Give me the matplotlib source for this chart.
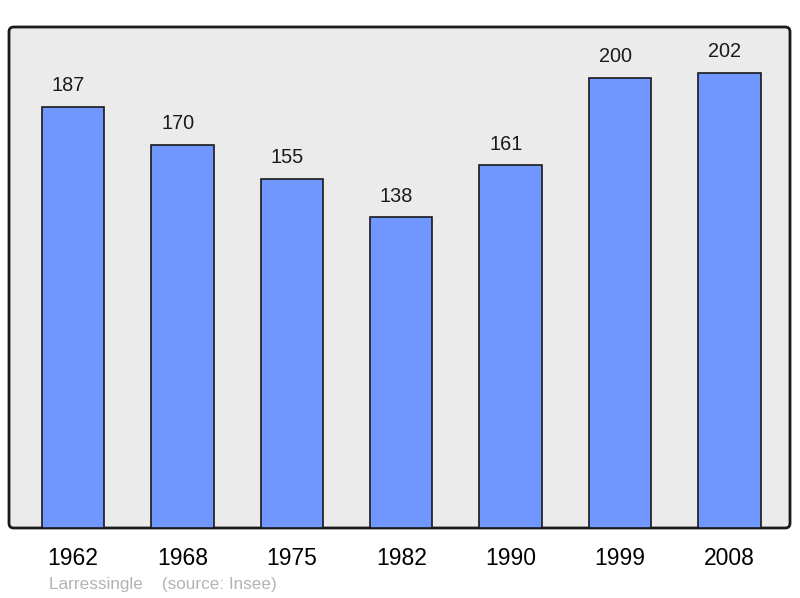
import matplotlib
matplotlib.use("Agg")
import matplotlib.pyplot as plt
from matplotlib.patches import FancyBboxPatch

plt.rcParams['font.family'] = ['Liberation Sans', 'DejaVu Sans']

years = ['1962', '1968', '1975', '1982', '1990', '1999', '2008']
population = [187, 170, 155, 138, 161, 200, 202]

fig = plt.figure(figsize=(8, 5.98), dpi=100)
left, bottom, width, height = 9 / 800, 70 / 598, 781 / 800, 501 / 598
ax = fig.add_axes([left, bottom, width, height])
ax.set_facecolor('none')

# rounded frame behind the axes
frame = FancyBboxPatch((left, bottom), width, height,
                       boxstyle='round,pad=0,rounding_size=0.006',
                       mutation_aspect=800 / 598,
                       transform=fig.transFigure, facecolor='#ebebeb',
                       edgecolor='#1a1a1a', linewidth=2, zorder=-1)
fig.patches.append(frame)

x = range(len(years))
ax.bar(x, population, width=0.57, color='#7096ff', edgecolor='#1a1a1a',
       linewidth=1.2, zorder=2)
for i, v in enumerate(population):
    ax.annotate(str(v), (i, v), xytext=(-3.3, 15.3), textcoords='offset points',
                ha='center', va='center', fontsize=14.3, color='#1a1a1a')

ax.set_xlim(-0.585, 6.553)
ax.set_ylim(0, 222.5)
ax.set_xticks(list(x))
ax.set_xticklabels(years, fontsize=16.5)
ax.tick_params(axis='x', length=0, pad=14)
ax.set_yticks([])
for s in ax.spines.values():
    s.set_visible(False)

fig.text(49 / 800, 1 - 584 / 598, 'Larressingle    (source: Insee)',
         fontsize=12.3, color='#b3b3b3', ha='left', va='center')

fig.savefig('out.png', dpi=100)
